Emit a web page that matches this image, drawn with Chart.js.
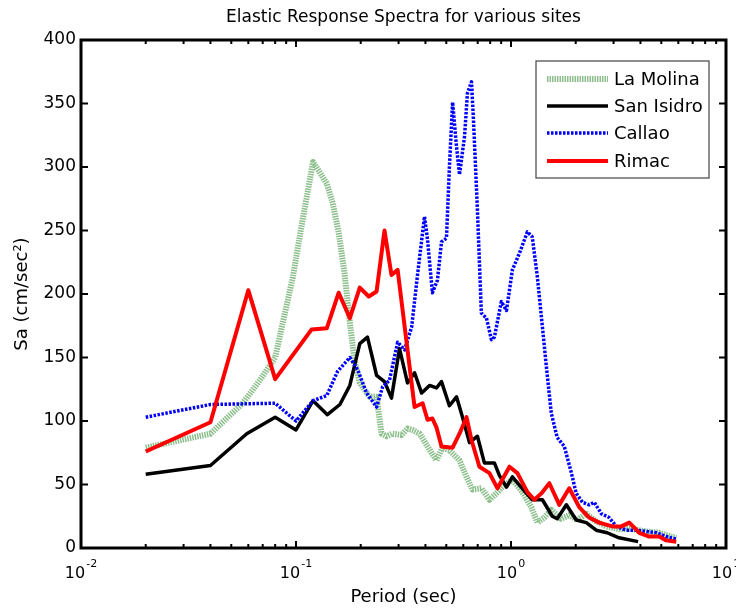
<!DOCTYPE html>
<html><head><meta charset="utf-8">
<script src="https://cdn.jsdelivr.net/npm/chart.js@4.4.0/dist/chart.umd.min.js"></script>
<style>html,body{margin:0;padding:0;background:#fff;}</style>
</head><body>
<canvas id="c" width="736" height="610"></canvas>
<script>
const titleText = 'Elastic Response Spectra for various sites';
const seriesNames = ['La Molina', 'San Isidro', 'Callao', 'Rimac'];

const laMolinaT = [0.02,0.04,0.0565,0.0678,0.08,0.0966,0.106,0.12,0.139,0.148,0.158,0.168,0.178,0.187,0.198,0.22,0.237,0.25,0.264,0.281,0.31,0.33,0.348,0.376,0.409,0.45,0.48,0.517,0.576,0.621,0.662,0.728,0.794,0.855,0.912,1.015,1.13,1.244,1.327,1.43,1.54,1.71,1.87,2.03,2.24,2.49,2.77,3.18,3.66,4.26,4.89,5.56,5.87];
const laMolinaSa = [79,90,114,132,150,213,253,304,287,272,248,217,178,148,130,119,119,90,88,90,89,94,93,90,80,69,79,77,69,56,46,47,38,43,48,54,44,32,20,24,30,23,26,22,27,21,17,15,15,13,12,9,8];

const sanIsidroT = [0.02,0.04,0.059,0.08,0.1,0.12,0.14,0.16,0.178,0.198,0.215,0.237,0.258,0.278,0.303,0.33,0.356,0.384,0.418,0.45,0.475,0.517,0.558,0.595,0.641,0.698,0.752,0.837,0.884,0.953,1.015,1.18,1.256,1.40,1.556,1.64,1.81,2.01,2.24,2.49,2.80,3.18,3.9];
const sanIsidroSa = [58,65,90,103,93,116,105,113,128,161,166,136,131,118,157,130,138,122,128,126,131,112,119,103,83,88,67,67,57,48,56,43,38,38,25,23,34,22,20,14,12,8,5];

const callaoT = [0.02,0.04,0.08,0.1,0.12,0.139,0.156,0.178,0.194,0.213,0.237,0.253,0.272,0.297,0.32,0.345,0.368,0.396,0.409,0.431,0.455,0.475,0.501,0.517,0.535,0.558,0.576,0.608,0.627,0.655,0.669,0.698,0.728,0.769,0.811,0.837,0.902,0.953,1.015,1.094,1.192,1.256,1.327,1.40,1.46,1.54,1.64,1.77,1.91,2.01,2.15,2.31,2.44,2.63,2.86,3.09,3.44,3.82,4.26,4.74,5.27,5.87];
const callaoSa = [103,113,114,100,116,120,139,150,140,122,111,127,132,162,156,174,216,261,243,201,211,241,244,300,351,316,294,324,358,367,337,266,185,181,164,166,194,187,219,232,249,245,213,174,143,106,87,80,59,43,36,34,36,27,24,17,14,14,13,12,9,7];

const rimacT = [0.02,0.04,0.06,0.08,0.118,0.139,0.158,0.178,0.198,0.218,0.237,0.258,0.278,0.297,0.356,0.388,0.409,0.431,0.45,0.475,0.535,0.576,0.621,0.655,0.713,0.794,0.865,0.984,1.071,1.192,1.284,1.384,1.508,1.678,1.866,2.08,2.31,2.57,2.96,3.26,3.55,3.95,4.39,4.89,5.27,5.87];
const rimacSa = [76,99,203,133,172,173,201,181,205,198,202,250,215,219,111,114,101,102,95,80,79,90,103,85,64,59,47,64,59,44,38,43,51,34,47,32,24,20,17,17,20,12,9,9,6,5];

const xTickExponents = ['-2','-1','0','1'];
const xTickValues = [0.01, 0.1, 1, 10];
const yTickValues = [0,50,100,150,200,250,300,350,400];

const FONT = 'DejaVu Sans';
Chart.defaults.font.family = FONT;
Chart.defaults.color = '#000';

function pts(t, s) { return t.map((v, i) => ({x: v, y: s[i]})); }

const styles = [
  {color:'#8cbf8c', width:6, dash:[1.5,1]},
  {color:'#000000', width:3.5, dash:[]},
  {color:'#0000ff', width:3.5, dash:[2.5,1.5]},
  {color:'#ff0000', width:4, dash:[]}
];
const allData = [pts(laMolinaT, laMolinaSa), pts(sanIsidroT, sanIsidroSa), pts(callaoT, callaoSa), pts(rimacT, rimacSa)];

const framePlugin = {
  id: 'frame',
  afterDraw(chart) {
    const {ctx, chartArea: {left, right, top, bottom}, scales: {x, y}} = chart;
    ctx.save();
    ctx.fillStyle = '#000';
    ctx.font = '17px "' + FONT + '"';
    ctx.textAlign = 'center';
    ctx.textBaseline = 'middle';
    ctx.fillText(titleText, (left + right) / 2, 18);
    ctx.strokeStyle = '#000';
    ctx.setLineDash([]);
    ctx.lineWidth = 2;
    const line = (a, b, c, d) => { ctx.beginPath(); ctx.moveTo(a, b); ctx.lineTo(c, d); ctx.stroke(); };
    for (let e = -2; e <= 0; e++) {
      for (let m = 1; m <= 9; m++) {
        const v = m * Math.pow(10, e);
        const px = x.getPixelForValue(v);
        const len = m === 1 ? 7 : 4;
        line(px, bottom, px, bottom - len);
        line(px, top, px, top + len);
      }
    }
    yTickValues.forEach(v => {
      const py = y.getPixelForValue(v);
      line(left, py, left + 7, py);
      line(right, py, right - 7, py);
    });
    ctx.lineWidth = 3;
    ctx.strokeRect(left, top, right - left, bottom - top);
    ctx.textAlign = 'left';
    ctx.textBaseline = 'alphabetic';
    xTickValues.forEach((v, i) => {
      const px = x.getPixelForValue(v);
      ctx.font = '16px "' + FONT + '"';
      const w1 = ctx.measureText('10').width;
      ctx.font = '11px "' + FONT + '"';
      const w2 = ctx.measureText(xTickExponents[i]).width;
      const start = px - (w1 + 1 + w2) / 2;
      ctx.font = '16px "' + FONT + '"';
      ctx.fillText('10', start, 578);
      ctx.font = '11px "' + FONT + '"';
      ctx.fillText(xTickExponents[i], start + w1 + 1, 567);
    });
    const lx = 536, ly = 61, lw = 173, lh = 117;
    ctx.fillStyle = '#fff';
    ctx.fillRect(lx, ly, lw, lh);
    ctx.strokeStyle = '#444';
    ctx.lineWidth = 1.2;
    ctx.strokeRect(lx, ly, lw, lh);
    const rows = [79, 106, 133, 161];
    ctx.font = '18px "' + FONT + '"';
    ctx.textBaseline = 'middle';
    seriesNames.forEach((name, i) => {
      const st = styles[i];
      ctx.strokeStyle = st.color;
      ctx.lineWidth = st.width;
      ctx.setLineDash(st.dash);
      ctx.beginPath(); ctx.moveTo(547, rows[i]); ctx.lineTo(608, rows[i]); ctx.stroke();
      ctx.setLineDash([]);
      ctx.fillStyle = '#000';
      ctx.fillText(name, 614, rows[i] + 1);
    });
    ctx.restore();
  }
};

new Chart(document.getElementById('c'), {
  type: 'line',
  data: {
    datasets: seriesNames.map((name, i) => ({
      label: name,
      data: allData[i],
      borderColor: styles[i].color,
      borderWidth: styles[i].width,
      borderDash: styles[i].dash,
      borderJoinStyle: 'round',
      pointRadius: 0,
      fill: false,
      tension: 0,
      order: 4 - i
    }))
  },
  options: {
    responsive: false,
    animation: false,
    layout: {padding: {left: 0, right: 10, top: 40, bottom: 0}},
    plugins: {legend: {display: false}, tooltip: {enabled: false}, title: {display: false}},
    scales: {
      x: {
        type: 'logarithmic', min: 0.01, max: 10,
        ticks: {display: false},
        grid: {display: false, drawTicks: false},
        border: {display: false},
        title: {display: true, text: 'Period (sec)', font: {size: 18}, color: '#000', padding: {top: 0, bottom: 2}},
        afterFit(s) { s.height = 62; }
      },
      y: {
        min: 0, max: 400,
        ticks: {stepSize: 50, font: {size: 17}, padding: 5, color: '#000'},
        grid: {display: false, drawTicks: false},
        border: {display: false},
        title: {display: true, text: 'Sa (cm/sec²)', font: {size: 18}, color: '#000', padding: {top: 12, bottom: 0}},
        afterFit(s) { s.width = 81; }
      }
    }
  },
  plugins: [framePlugin]
});
</script>
</body></html>
